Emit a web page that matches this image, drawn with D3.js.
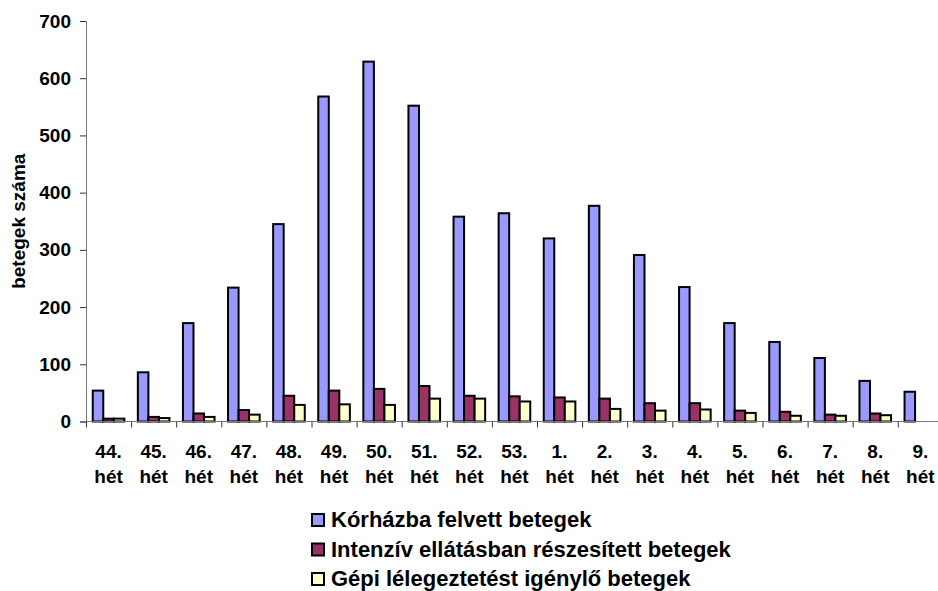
<!DOCTYPE html>
<html>
<head>
<meta charset="utf-8">
<script src="https://cdn.jsdelivr.net/npm/d3@7"></script>
<style>
  body { margin: 0; background: #fff; }
  svg { display: block; font-family: "Liberation Sans", Arial, sans-serif; font-weight: bold; }
</style>
</head>
<body>
<div id="chart"></div>
<script>
// week labels (first line) - second line is always "hét"
const weeks = ['44.', '45.', '46.', '47.', '48.', '49.', '50.', '51.', '52.', '53.',
  '1.', '2.', '3.', '4.', '5.', '6.', '7.', '8.', '9.'];
const weekSuffix = 'hét';

const seriesNames = [
  'Kórházba felvett betegek',
  'Intenzív ellátásban részesített betegek',
  'Gépi lélegeztetést igénylő betegek'
];
const seriesColors = ['#9999ff', '#993366', '#ffffcc'];

const hospitalised = [54, 86, 172, 234, 345, 568, 629, 552, 358, 364, 320, 377, 291, 235, 172, 139, 111, 71, 52];
const intensive = [5, 8, 14, 20, 45, 54, 57, 62, 45, 44, 42, 40, 32, 32, 19, 17, 12, 14, null];
const ventilated = [5, 6, 8, 12, 29, 30, 29, 40, 40, 35, 35, 22, 19, 21, 15, 10, 10, 11, null];

const yTicks = [0, 100, 200, 300, 400, 500, 600, 700];
const yTitle = 'betegek száma';

const width = 938;
const height = 591;
const margin = { top: 21, left: 86, bottom: 170 };
const plotBottom = height - margin.bottom + 0.5; // 421.5
const step = 45.1;

const svg = d3.select('#chart').append('svg')
  .attr('width', width)
  .attr('height', height);

svg.append('rect').attr('width', width).attr('height', height).attr('fill', '#fff');

// Scales
const x = d3.scaleBand()
  .domain(weeks)
  .range([margin.left, margin.left + step * weeks.length])
  .paddingInner(0)
  .paddingOuter(0);

const xSeries = d3.scaleBand()
  .domain(d3.range(seriesNames.length))
  .range([0, x.bandwidth()])
  .paddingInner(0)
  .paddingOuter(0.64);

const y = d3.scaleLinear()
  .domain([0, 700])
  .range([plotBottom, margin.top]);

// Bars
const series = [hospitalised, intensive, ventilated];
const barData = [];
weeks.forEach((w, i) => {
  series.forEach((s, k) => {
    if (s[i] != null) barData.push({ week: w, k, value: s[i] });
  });
});

svg.append('g').attr('class', 'bars')
  .selectAll('rect')
  .data(barData)
  .join('rect')
  .attr('x', d => x(d.week) + xSeries(d.k))
  .attr('width', xSeries.bandwidth())
  .attr('y', d => y(d.value))
  .attr('height', d => y(0) - y(d.value))
  .attr('fill', d => seriesColors[d.k])
  .attr('stroke', '#000')
  .attr('stroke-width', 2);

// Y axis
const yAxis = d3.axisLeft(y)
  .tickValues(yTicks)
  .tickSize(6)
  .tickPadding(9);

const yAxisG = svg.append('g')
  .attr('transform', `translate(${margin.left},0)`)
  .call(yAxis);

yAxisG.select('.domain').attr('stroke', '#777');
yAxisG.selectAll('.tick line').attr('stroke', '#333');
yAxisG.selectAll('.tick text')
  .style('font-size', '19px')
  .style('font-weight', 'bold')
  .style('font-family', '"Liberation Sans", Arial, sans-serif')
  .attr('fill', '#000');

// X axis (line + ticks at category boundaries)
const xAxisG = svg.append('g').attr('class', 'x-axis');

xAxisG.append('line')
  .attr('x1', x.range()[0])
  .attr('x2', x.range()[1])
  .attr('y1', y(0))
  .attr('y2', y(0))
  .attr('stroke', '#777');

xAxisG.selectAll('.xtick')
  .data(weeks)
  .join('line')
  .attr('class', 'xtick')
  .attr('x1', d => x(d) + 0.5)
  .attr('x2', d => x(d) + 0.5)
  .attr('y1', y(0))
  .attr('y2', y(0) + 6)
  .attr('stroke', '#333');

const labels = xAxisG.selectAll('.xlabel')
  .data(weeks)
  .join('text')
  .attr('class', 'xlabel')
  .attr('text-anchor', 'middle')
  .style('font-size', '19px')
  .attr('fill', '#000');

labels.append('tspan')
  .attr('x', d => x(d) + x.bandwidth() / 2)
  .attr('y', 458)
  .text(d => d);

labels.append('tspan')
  .attr('x', d => x(d) + x.bandwidth() / 2)
  .attr('y', 483)
  .text(weekSuffix);

// Y axis title
svg.append('text')
  .attr('transform', `translate(25, ${(y(0) + y(700)) / 2}) rotate(-90)`)
  .attr('text-anchor', 'middle')
  .style('font-size', '19px')
  .attr('fill', '#000')
  .text(yTitle);

// Legend
const legend = svg.append('g')
  .attr('transform', 'translate(311, 513)');

const legendItems = legend.selectAll('g')
  .data(seriesNames)
  .join('g')
  .attr('transform', (d, i) => `translate(0, ${i * 29.5})`);

legendItems.append('rect')
  .attr('x', 1)
  .attr('y', 1)
  .attr('width', 12)
  .attr('height', 12)
  .attr('fill', (d, i) => seriesColors[i])
  .attr('stroke', '#000')
  .attr('stroke-width', 2);

legendItems.append('text')
  .attr('x', 20)
  .attr('y', 14)
  .style('font-size', '22px')
  .attr('fill', '#000')
  .text(d => d);
</script>
</body>
</html>
